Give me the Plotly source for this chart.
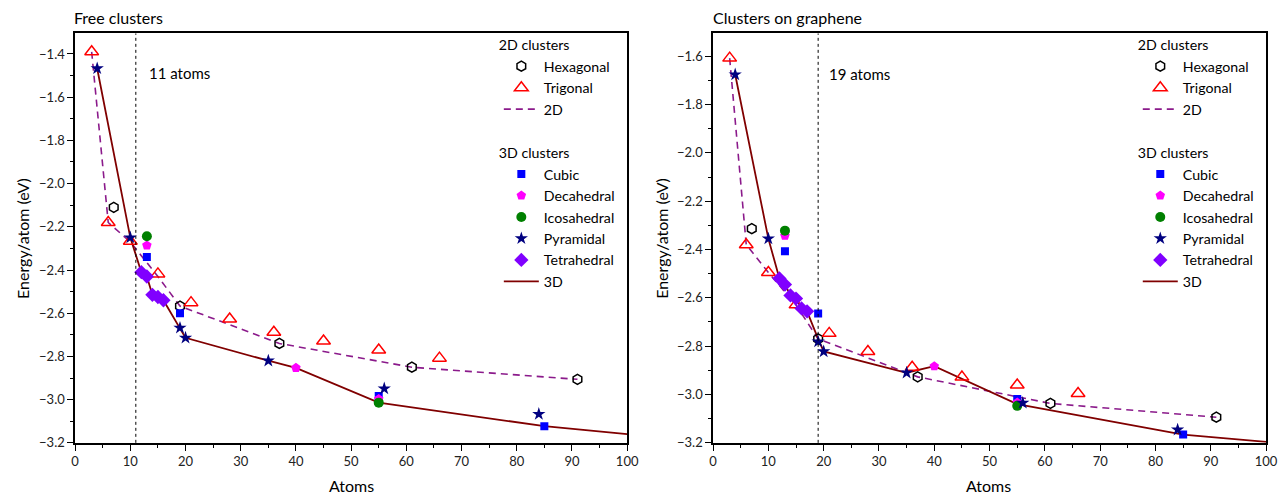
import plotly.graph_objects as go

# ---------------- data ----------------
hex_x = [7, 19, 37, 61, 91]
hex_free = [-2.11, -2.567, -2.74, -2.85, -2.906]
hex_gr = [-2.314, -2.77, -2.927, -3.037, -3.094]

tri_x = [3, 6, 10, 15, 21, 28, 36, 45, 55, 66]
tri_free = [-1.39, -2.18, -2.267, -2.418, -2.551, -2.627, -2.688, -2.729, -2.77, -2.808]
tri_gr = [-1.608, -2.38, -2.495, -2.629, -2.747, -2.822, -2.887, -2.928, -2.961, -2.996]

line2d_x = [3, 6, 10, 15, 19, 37, 61, 91]
line2d_free = [-1.39, -2.18, -2.27, -2.43, -2.567, -2.74, -2.85, -2.906]
line2d_gr = [-1.608, -2.38, -2.495, -2.63, -2.77, -2.927, -3.037, -3.094]

cub_x = [13, 19, 55, 85]
cub_free = [-2.34, -2.60, -2.983, -3.123]
cub_gr = [-2.407, -2.665, -3.019, -3.166]

dec_x = [13, 40, 55]
dec_free = [-2.286, -2.853, -2.997]
dec_gr = [-2.343, -2.883, -3.033]

ico_x = [13, 55]
ico_free = [-2.244, -3.014]
ico_gr = [-2.322, -3.047]

pyr_x = [4, 10, 19, 20, 35, 56, 84]
pyr_free = [-1.467, -2.25, -2.668, -2.714, -2.82, -2.949, -3.067]
pyr_gr = [-1.676, -2.355, -2.781, -2.822, -2.91, -3.035, -3.146]

tet_x_free = [12, 13, 14, 15, 16]
tet_free = [-2.41, -2.43, -2.515, -2.525, -2.54]
tet_x_gr = [12, 13, 14, 15, 16, 17]
tet_gr = [-2.52, -2.545, -2.59, -2.603, -2.644, -2.656]

line3d_x_free = [4, 10, 12, 13, 14, 15, 16, 19, 20, 35, 40, 55, 85, 100]
line3d_free = [-1.467, -2.25, -2.41, -2.43, -2.515, -2.525, -2.54, -2.668, -2.714,
               -2.82, -2.853, -3.014, -3.123, -3.16]
line3d_x_gr = [4, 10, 12, 13, 14, 15, 16, 17, 19, 20, 35, 40, 55, 85, 100]
line3d_gr = [-1.676, -2.355, -2.52, -2.545, -2.59, -2.603, -2.644, -2.656, -2.77,
             -2.822, -2.91, -2.883, -3.04, -3.166, -3.196]

panel_titles = ["Free clusters", "Clusters on graphene"]
threshold = [11, 19]
threshold_labels = ["11 atoms", "19 atoms"]

FONT = "Lato"
C2D = "#8B1A8B"
C3D = "#800000"

W, H = 1286, 502


def fx(px):
    return px / W


def fy(py):
    return (H - py) / H


fig = go.Figure()


def add_panel(xa, ya, leg, hy, ty, l2y, cy, dy, iy, py, tetx, tety, l3x, l3y):
    fig.add_trace(go.Scatter(x=line2d_x, y=l2y, mode="lines", name="2D",
                             line=dict(color=C2D, width=1.6, dash="7px,5px"),
                             xaxis=xa, yaxis=ya, legend=leg, legendgroup="g2",
                             showlegend=False))
    fig.add_trace(go.Scatter(x=l3x, y=l3y, mode="lines", name="3D",
                             line=dict(color=C3D, width=1.8),
                             xaxis=xa, yaxis=ya, legend=leg, legendgroup="g3",
                             showlegend=False))
    fig.add_trace(go.Scatter(x=hex_x, y=hy, mode="markers", name="Hexagonal",
                             marker=dict(symbol="hexagon-open", size=10, color="black",
                                         line=dict(width=1.5, color="black")),
                             xaxis=xa, yaxis=ya, legend=leg, legendgroup="g2",
                             legendgrouptitle=dict(text="2D clusters"), legendrank=1))
    fig.add_trace(go.Scatter(x=tri_x, y=ty, mode="markers", name="Trigonal",
                             marker=dict(symbol="triangle-up-open", size=12, color="red",
                                         line=dict(width=1.5, color="red")),
                             xaxis=xa, yaxis=ya, legend=leg, legendgroup="g2", legendrank=2))
    fig.add_trace(go.Scatter(x=[None], y=[None], mode="lines", name="2D",
                             line=dict(color=C2D, width=1.6, dash="7px,5px"),
                             xaxis=xa, yaxis=ya, legend=leg, legendgroup="g2", legendrank=3))
    fig.add_trace(go.Scatter(x=cub_x, y=cy, mode="markers", name="Cubic",
                             marker=dict(symbol="square", size=8, color="#0000FF"),
                             xaxis=xa, yaxis=ya, legend=leg, legendgroup="g3",
                             legendgrouptitle=dict(text="3D clusters"), legendrank=4))
    fig.add_trace(go.Scatter(x=dec_x, y=dy, mode="markers", name="Decahedral",
                             marker=dict(symbol="pentagon", size=10, color="#FF00FF"),
                             xaxis=xa, yaxis=ya, legend=leg, legendgroup="g3", legendrank=5))
    fig.add_trace(go.Scatter(x=ico_x, y=iy, mode="markers", name="Icosahedral",
                             marker=dict(symbol="circle", size=10, color="#008000"),
                             xaxis=xa, yaxis=ya, legend=leg, legendgroup="g3", legendrank=6))
    fig.add_trace(go.Scatter(x=pyr_x, y=py, mode="markers", name="Pyramidal",
                             marker=dict(symbol="star", size=10, color="#000080"),
                             xaxis=xa, yaxis=ya, legend=leg, legendgroup="g3", legendrank=7))
    fig.add_trace(go.Scatter(x=tetx, y=tety, mode="markers", name="Tetrahedral",
                             marker=dict(symbol="diamond", size=11, color="#8000FF"),
                             xaxis=xa, yaxis=ya, legend=leg, legendgroup="g3", legendrank=8))
    fig.add_trace(go.Scatter(x=[None], y=[None], mode="lines", name="3D",
                             line=dict(color=C3D, width=1.8),
                             xaxis=xa, yaxis=ya, legend=leg, legendgroup="g3", legendrank=9))


add_panel("x", "y", "legend", hex_free, tri_free, line2d_free, cub_free, dec_free,
          ico_free, pyr_free, tet_x_free, tet_free, line3d_x_free, line3d_free)
add_panel("x2", "y2", "legend2", hex_gr, tri_gr, line2d_gr, cub_gr, dec_gr,
          ico_gr, pyr_gr, tet_x_gr, tet_gr, line3d_x_gr, line3d_gr)

xd1 = [fx(72), fx(631)]
xd2 = [fx(718), fx(1278)]
yd = [fy(450), fy(34)]

axis_common = dict(showgrid=False, zeroline=False, showline=True, linecolor="black",
                   linewidth=1.5, mirror=True, ticks="outside", ticklen=6, tickwidth=1.3,
                   tickcolor="black", tickfont=dict(family=FONT, size=13, color="#222"))

xcommon = dict(axis_common, range=[0, 100], dtick=10, tick0=0,
               minor=dict(dtick=5, ticks="outside", ticklen=3.5, tickwidth=1.2,
                          tickcolor="black"))
yminor = dict(dtick=0.1, ticks="outside", ticklen=3.5, tickwidth=1.2, tickcolor="black")

legend_common = dict(xanchor="left", yanchor="top", bgcolor="rgba(0,0,0,0)",
                     font=dict(family=FONT, size=14.2), tracegroupgap=22, itemwidth=35,
                     indentation=5, grouptitlefont=dict(family=FONT, size=14.2))

fig.update_layout(
    width=W, height=H, margin=dict(l=0, r=0, t=0, b=0),
    plot_bgcolor="white", paper_bgcolor="white",
    font=dict(family=FONT, size=14, color="black"),
    xaxis=dict(xcommon, domain=xd1, anchor="y"),
    yaxis=dict(axis_common, domain=yd, anchor="x", range=[-3.2, -1.305], dtick=0.2,
               tick0=-3.2, tickformat=".1f", minor=yminor),
    xaxis2=dict(xcommon, domain=xd2, anchor="y2"),
    yaxis2=dict(axis_common, domain=yd, anchor="x2", range=[-3.2, -1.506], dtick=0.2,
                tick0=-3.2, tickformat=".1f", minor=yminor),
    legend=dict(legend_common, x=fx(496), y=fy(29.5)),
    legend2=dict(legend_common, x=fx(1143), y=fy(29.5)),
)

for i, (xr, yr) in enumerate([("x", "y"), ("x2", "y2")]):
    fig.add_shape(type="line", xref=xr, yref=yr + " domain", x0=threshold[i], x1=threshold[i],
                  y0=0, y1=1, line=dict(color="black", width=1, dash="dot"))

fig.add_annotation(x=13, y=-1.49, xref="x", yref="y", text=threshold_labels[0],
                   showarrow=False, xanchor="left", yanchor="middle",
                   font=dict(family=FONT, size=15))
fig.add_annotation(x=20.6, y=-1.673, xref="x2", yref="y2", text=threshold_labels[1],
                   showarrow=False, xanchor="left", yanchor="middle",
                   font=dict(family=FONT, size=15))

fig.add_annotation(x=fx(69), y=fy(18), xref="paper", yref="paper",
                   text=panel_titles[0], showarrow=False, xanchor="left", yanchor="middle",
                   font=dict(family=FONT, size=16))
fig.add_annotation(x=fx(716), y=fy(18), xref="paper", yref="paper",
                   text=panel_titles[1], showarrow=False, xanchor="left", yanchor="middle",
                   font=dict(family=FONT, size=16))

for cx in [352, 997]:
    fig.add_annotation(x=fx(cx), y=fy(493), xref="paper", yref="paper", text="Atoms",
                       showarrow=False, xanchor="center", yanchor="middle",
                       font=dict(family=FONT, size=16))
for cx in [18, 665]:
    fig.add_annotation(x=fx(cx), y=fy(242), xref="paper", yref="paper",
                       text="Energy/atom (eV)", textangle=-90, showarrow=False,
                       xanchor="center", yanchor="middle",
                       font=dict(family=FONT, size=16))

fig.write_html("out.html",
               config={"displayModeBar": False},
               post_script="document.body.style.margin='0';"
                           "document.body.style.overflow='hidden';")
